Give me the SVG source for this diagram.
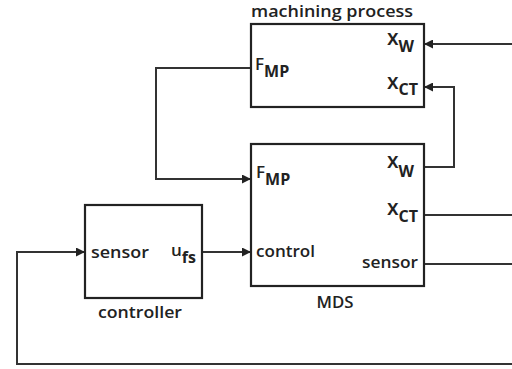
<svg xmlns="http://www.w3.org/2000/svg" width="512" height="369" viewBox="0 0 512 369">
  <style>
    .box { fill: #fff; stroke: #222; stroke-width: 2.2; }
    .wire { fill: none; stroke: #333; stroke-width: 2; }
    text { font-family: "Open Sans", "Liberation Sans", sans-serif; font-weight: 600; fill: #222; }
    .lbl { font-size: 17px; }
    .var { font-size: 21px; font-weight: 600; }
    .force { font-size: 17px; font-weight: 600; }
    .sub { font-size: 16px; font-weight: 700; }
    .title { font-size: 17px; }
  </style>
  <defs>
    <marker id="arrow" markerWidth="9" markerHeight="9" refX="9" refY="4.5" orient="auto" markerUnits="userSpaceOnUse">
      <path d="M0,0 L9,4.5 L0,9 Z" fill="#222"/>
    </marker>
  </defs>

  <rect width="512" height="369" fill="#fff"/>

  <g id="connectors">
    <!-- workpiece position into machining process -->
    <path class="wire" d="M512,44 H424" marker-end="url(#arrow)"/>
    <!-- MDS x_W up to machining process x_CT -->
    <path class="wire" d="M424,167 H454 V87 H424" marker-end="url(#arrow)"/>
    <!-- machining process force back into MDS -->
    <path class="wire" d="M251,68 H156 V179 H251" marker-end="url(#arrow)"/>
    <!-- MDS outputs leaving to the right -->
    <path class="wire" d="M424,215 H512"/>
    <path class="wire" d="M424,264 H512"/>
    <!-- controller output into MDS control -->
    <path class="wire" d="M202,252 H251" marker-end="url(#arrow)"/>
    <!-- sensor feedback loop into controller -->
    <path class="wire" d="M512,364 H17 V252 H85" marker-end="url(#arrow)"/>
  </g>

  <g id="machining-process">
    <rect class="box" x="251" y="24" width="173" height="83"/>
    <text class="title" x="251" y="17" textLength="162" lengthAdjust="spacingAndGlyphs">machining process</text>
    <text class="force" x="255" y="70">F<tspan class="sub" dy="7">MP</tspan></text>
    <text class="var" x="387" y="45">x<tspan class="sub" dy="7">W</tspan></text>
    <text class="var" x="387" y="89">x<tspan class="sub" dy="6">CT</tspan></text>
  </g>

  <g id="mds">
    <rect class="box" x="251" y="144" width="173" height="142"/>
    <text class="force" x="256" y="178">F<tspan class="sub" dy="7">MP</tspan></text>
    <text class="var" x="387" y="168">x<tspan class="sub" dy="9">W</tspan></text>
    <text class="var" x="387" y="215">x<tspan class="sub" dy="7">CT</tspan></text>
    <text class="lbl" x="256" y="257" textLength="59" lengthAdjust="spacingAndGlyphs">control</text>
    <text class="lbl" x="362" y="268" textLength="56" lengthAdjust="spacingAndGlyphs">sensor</text>
    <text class="title" x="335" y="308" text-anchor="middle" textLength="37" lengthAdjust="spacingAndGlyphs">MDS</text>
  </g>

  <g id="controller">
    <rect class="box" x="85" y="205" width="117" height="93"/>
    <text class="lbl" x="91" y="258" textLength="58" lengthAdjust="spacingAndGlyphs">sensor</text>
    <text class="lbl" x="171" y="256" font-size="18">u<tspan class="sub" dy="7">fs</tspan></text>
    <text class="title" x="140" y="318" text-anchor="middle" textLength="84" lengthAdjust="spacingAndGlyphs">controller</text>
  </g>
</svg>
